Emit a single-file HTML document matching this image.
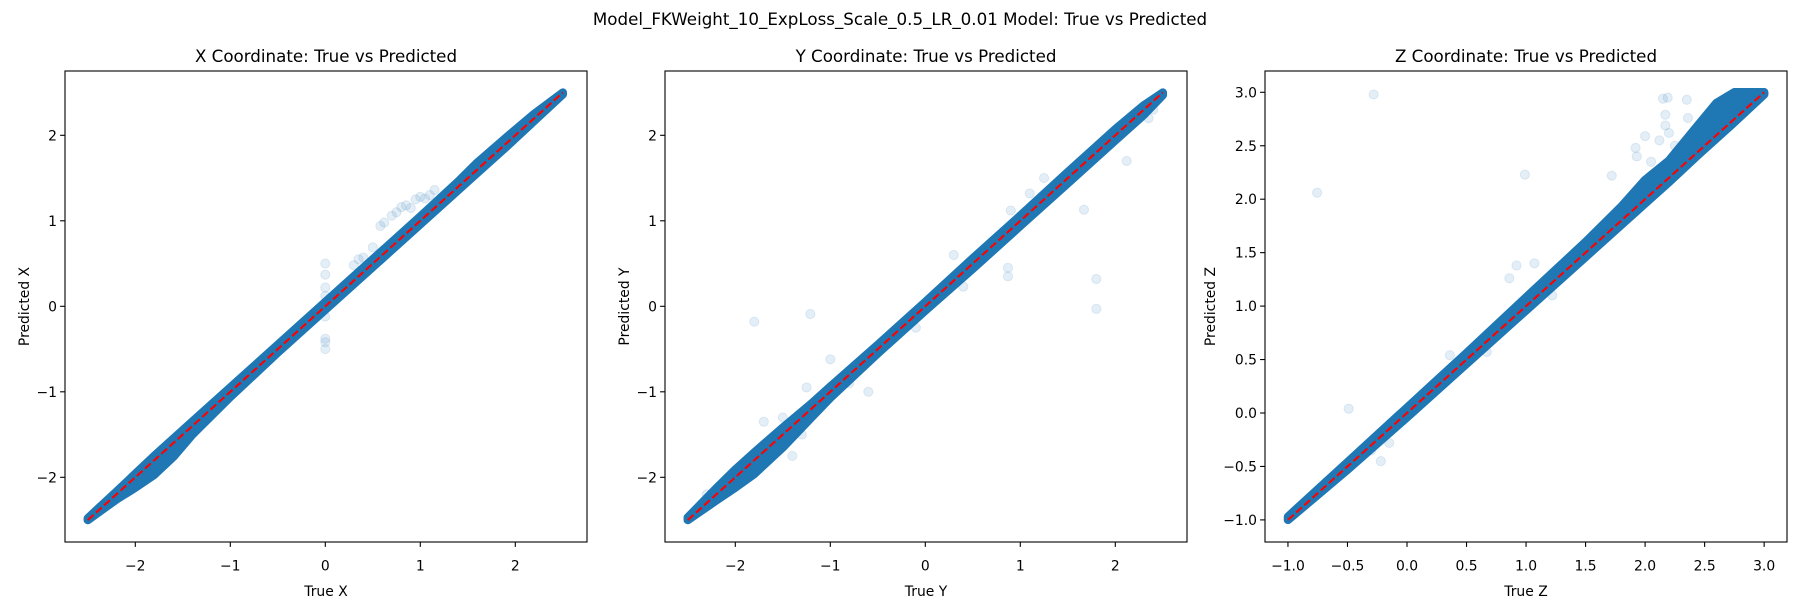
<!DOCTYPE html>
<html><head><meta charset="utf-8"><style>
html,body{margin:0;padding:0;background:#fff;width:1800px;height:600px;overflow:hidden}
svg{display:block;font-family:"DejaVu Sans","Liberation Sans",sans-serif}
</style></head><body>
<svg id="fig" width="1800" height="600" viewBox="0 0 1800 600">
<text x="900" y="25" font-size="16.7" text-anchor="middle">Model_FKWeight_10_ExpLoss_Scale_0.5_LR_0.01 Model: True vs Predicted</text>
</svg>
<script>
// ---- Panel X data ----
const xBandTrue = [-2.5,-2.2,-2.0,-1.8,-1.6,-1.4,-1.0,-0.5,0,0.5,1.0,1.4,1.6,1.9,2.2,2.5];
const xBandLo   = [-2.5,-2.26,-2.12,-1.97,-1.76,-1.5,-1.06,-0.54,-0.04,0.46,0.96,1.36,1.56,1.86,2.17,2.48];
const xBandHi   = [-2.48,-2.17,-1.96,-1.75,-1.55,-1.35,-0.95,-0.45,0.05,0.55,1.05,1.46,1.68,1.97,2.25,2.5];
const xOutTrue  = [0,0,0,0,0,0,0,0,0.58,0.62,0.7,0.75,0.8,0.85,0.9,0.95,1.0,1.05,1.1,1.15,0.35,0.4,0.5,0.3];
const xOutPred  = [0.5,0.37,0.22,0.12,-0.12,-0.38,-0.42,-0.5,0.94,0.98,1.06,1.1,1.16,1.18,1.15,1.25,1.28,1.26,1.3,1.36,0.55,0.57,0.69,0.48];
// ---- Panel Y data ----
const yBandTrue = [-2.5,-2.2,-2.0,-1.8,-1.5,-1.2,-1.0,-0.5,0,0.5,1.0,1.5,2.0,2.3,2.5];
const yBandLo   = [-2.5,-2.27,-2.12,-1.96,-1.65,-1.3,-1.07,-0.55,-0.05,0.44,0.94,1.44,1.94,2.24,2.47];
const yBandHi   = [-2.47,-2.13,-1.91,-1.71,-1.42,-1.14,-0.94,-0.45,0.05,0.56,1.06,1.57,2.07,2.35,2.5];
const yOutTrue  = [-1.8,-1.21,1.8,1.8,1.67,2.12,0.87,0.87,-1.3,-1.25,-1.0,-0.8,-1.6,-1.7,-2.3,-0.3,0.3,0.4,0.6,0.9,1.1,1.25,2.35,2.4,-0.6,-1.4,-1.5,-1.9,-2.0,-0.1];
const yOutPred  = [-0.18,-0.09,0.32,-0.03,1.13,1.70,0.45,0.35,-1.5,-0.95,-0.62,-0.9,-1.55,-1.35,-2.2,-0.3,0.6,0.23,0.55,1.12,1.32,1.5,2.2,2.3,-1.0,-1.75,-1.3,-1.85,-1.95,-0.25];
// ---- Panel Z data ----
const zBandTrue = [-1.0,-0.5,0,0.5,1.0,1.5,1.8,2.0,2.2,2.45,2.6,2.75,3.0];
const zBandLo   = [-1.0,-0.53,-0.04,0.46,0.96,1.46,1.76,1.96,2.16,2.42,2.57,2.72,2.98];
const zBandHi   = [-0.97,-0.46,0.05,0.56,1.08,1.6,1.93,2.18,2.36,2.7,2.9,3.0,3.0];
const zOutTrue  = [-0.28,-0.755,0.99,-0.49,-0.22,0.92,1.07,0.86,1.22,0.36,0.67,1.72,2.15,2.19,2.35,2.17,2.36,2.0,1.92,1.93,2.17,2.2,2.12,2.25,2.05,-0.3,-0.15];
const zOutPred  = [2.98,2.06,2.23,0.04,-0.45,1.38,1.40,1.26,1.10,0.54,0.57,2.22,2.94,2.95,2.93,2.79,2.76,2.59,2.48,2.40,2.69,2.62,2.55,2.5,2.35,-0.35,-0.28];

const NS = 'http://www.w3.org/2000/svg';
const fig = document.getElementById('fig');
function mk(tag, attrs, parent){ const e=document.createElementNS(NS,tag); for(const k in attrs) e.setAttribute(k,attrs[k]); (parent||fig).appendChild(e); return e; }
const fmtInt = v => (v<0?'\u2212':'')+Math.abs(v);
const fmt1 = v => (v<0?'\u2212':'')+Math.abs(v).toFixed(1);

const panels = [
 {key:'x', left:65, x0:325.3, xs:95, y0:306.3, ys:85.5, xt:[-2,-1,0,1,2], yt:[-2,-1,0,1,2], f:fmtInt, title:'X Coordinate: True vs Predicted', xl:'True X', yl:'Predicted X', ylx:24,
  bT:xBandTrue,bL:xBandLo,bH:xBandHi,oT:xOutTrue,oP:xOutPred, lmin:-2.5,lmax:2.5},
 {key:'y', left:665, x0:925.3, xs:95, y0:306.3, ys:85.5, xt:[-2,-1,0,1,2], yt:[-2,-1,0,1,2], f:fmtInt, title:'Y Coordinate: True vs Predicted', xl:'True Y', yl:'Predicted Y', ylx:624,
  bT:yBandTrue,bL:yBandLo,bH:yBandHi,oT:yOutTrue,oP:yOutPred, lmin:-2.5,lmax:2.5},
 {key:'z', left:1265, x0:1407, xs:119.05, y0:413, ys:106.9, xt:[-1,-0.5,0,0.5,1,1.5,2,2.5,3], yt:[-1,-0.5,0,0.5,1,1.5,2,2.5,3], f:fmt1, title:'Z Coordinate: True vs Predicted', xl:'True Z', yl:'Predicted Z', ylx:1210,
  bT:zBandTrue,bL:zBandLo,bH:zBandHi,oT:zOutTrue,oP:zOutPred, lmin:-1,lmax:3},
];
const TOP=71, BOT=542, W=522;
panels.forEach(p=>{
  const X=v=>p.x0+v*p.xs, Y=v=>p.y0-v*p.ys;
  const g=mk('g',{});
  
  
  const cid='clip-'+p.key;
  const cp=mk('clipPath',{id:cid},g); mk('rect',{x:p.left,y:TOP,width:W,height:BOT-TOP},cp);
  const plot=mk('g',{'clip-path':'url(#'+cid+')'},g);
  let pts=[];
  p.bT.forEach((t,i)=>pts.push(X(t).toFixed(1)+','+Y(p.bH[i]).toFixed(1)));
  for(let i=p.bT.length-1;i>=0;i--) pts.push(X(p.bT[i]).toFixed(1)+','+Y(p.bL[i]).toFixed(1));
  const band=mk('polygon',{points:pts.join(' '),fill:'#1f77b4',stroke:'#1f77b4','stroke-width':8.5,'stroke-linejoin':'round'},plot);
  
  
  p.oT.forEach((t,i)=>{
    const c=mk('circle',{cx:X(t),cy:Y(p.oP[i]),r:4.6,fill:'#1f77b4','fill-opacity':0.12,stroke:'#1f77b4','stroke-opacity':0.12,'stroke-width':1},plot);
    
    
  });
  const ln=mk('line',{x1:X(p.lmin),y1:Y(p.lmin),x2:X(p.lmax),y2:Y(p.lmax),stroke:'#ff0000','stroke-width':2.1,'stroke-dasharray':'7.7,3.3'},plot);
  
  
  const fr=mk('rect',{x:p.left,y:TOP,width:W,height:BOT-TOP,fill:'none',stroke:'#000','stroke-width':1.1},g);
  
  
  p.xt.forEach(v=>{
    mk('line',{x1:X(v),x2:X(v),y1:BOT,y2:BOT+4.9,stroke:'#000','stroke-width':1.1},g);
    const t=mk('text',{x:X(v),y:570.5,'font-size':13.9,'text-anchor':'middle'},g); t.textContent=p.f(v);
    
    
  });
  p.yt.forEach(v=>{
    mk('line',{x1:p.left-4.9,x2:p.left,y1:Y(v),y2:Y(v),stroke:'#000','stroke-width':1.1},g);
    const t=mk('text',{x:p.left-8,y:Y(v)+5,'font-size':13.9,'text-anchor':'end'},g); t.textContent=p.f(v);
    
    
  });
  const tt=mk('text',{x:p.left+W/2,y:62,'font-size':16.7,'text-anchor':'middle'},g); tt.textContent=p.title;
  
  
  const xl=mk('text',{x:p.left+W/2,y:596,'font-size':13.9,'text-anchor':'middle'},g); xl.textContent=p.xl;
  
  
  const yc=(TOP+BOT)/2;
  const yl=mk('text',{x:p.ylx+5,y:yc,'font-size':13.9,'text-anchor':'middle',transform:'rotate(-90 '+(p.ylx+5)+' '+yc+')'},g); yl.textContent=p.yl;
  
  
});
</script>
</body></html>
